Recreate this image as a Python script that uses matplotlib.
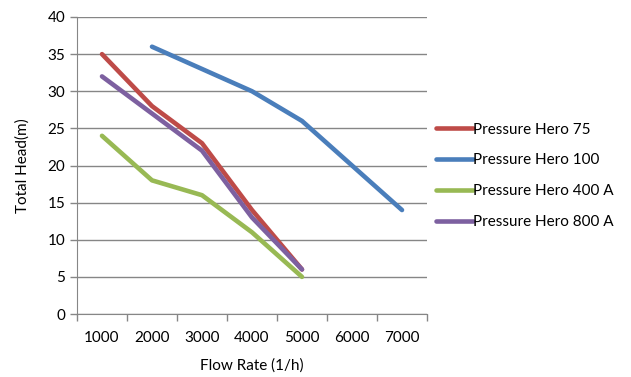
import matplotlib
matplotlib.use('Agg')
import matplotlib.pyplot as plt
import numpy as np

# data
flow = ['1000', '2000', '3000', '4000', '5000', '6000', '7000']
hero_75 = [35, 28, 23, 14, 6, None, None]
hero_100 = [None, 36, 33, 30, 26, 20, 14]
hero_400a = [24, 18, 16, 11, 5, None, None]
hero_800a = [32, 27, 22, 13, 6, None, None]

series = [
    ('Pressure Hero 75', hero_75, '#BE4B48'),
    ('Pressure Hero 100', hero_100, '#4A7EBB'),
    ('Pressure Hero 400 A', hero_400a, '#98B954'),
    ('Pressure Hero 800 A', hero_800a, '#7D60A0'),
]

plt.rcParams['font.family'] = ['Lato', 'DejaVu Sans']
fs = 11

fig = plt.figure(figsize=(6.31, 3.77), dpi=100)
ax = fig.add_axes([77 / 631, 1 - 314 / 377, 350 / 631, 297 / 377])

x = np.arange(len(flow))
for name, vals, col in series:
    y = np.array([np.nan if v is None else v for v in vals], dtype=float)
    ax.plot(x, y, color=col, lw=3.3, label=name, solid_capstyle='round')

ax.set_xlim(-0.5, len(flow) - 0.5)
ax.set_ylim(0, 40)
ax.set_yticks(range(0, 41, 5))
ax.set_xticks(x)
ax.set_xticklabels(flow)
ax.set_xticks(np.arange(-0.5, len(flow)), minor=True)
ax.tick_params(axis='x', which='major', length=0, pad=12, labelsize=fs)
ax.tick_params(axis='x', which='minor', length=5, color='#868686', width=1)
ax.tick_params(axis='y', length=5, color='#868686', width=1, labelsize=fs)
ax.yaxis.grid(True, color='#868686', lw=1)
ax.set_axisbelow(True)
for s in ['top', 'right']:
    ax.spines[s].set_visible(False)
for s in ['left', 'bottom']:
    ax.spines[s].set_color('#868686')

ax.set_xlabel('Flow Rate (1/h)', fontsize=fs, labelpad=10)
ax.set_ylabel('Total Head(m)', fontsize=fs, labelpad=13)

ax.legend(loc='center left', bbox_to_anchor=(1.0, 0.465), frameon=False,
          fontsize=fs, handlelength=2.4, handletextpad=0.0,
          labelspacing=1.1, borderaxespad=0.2)

fig.savefig('out.png', dpi=100)
